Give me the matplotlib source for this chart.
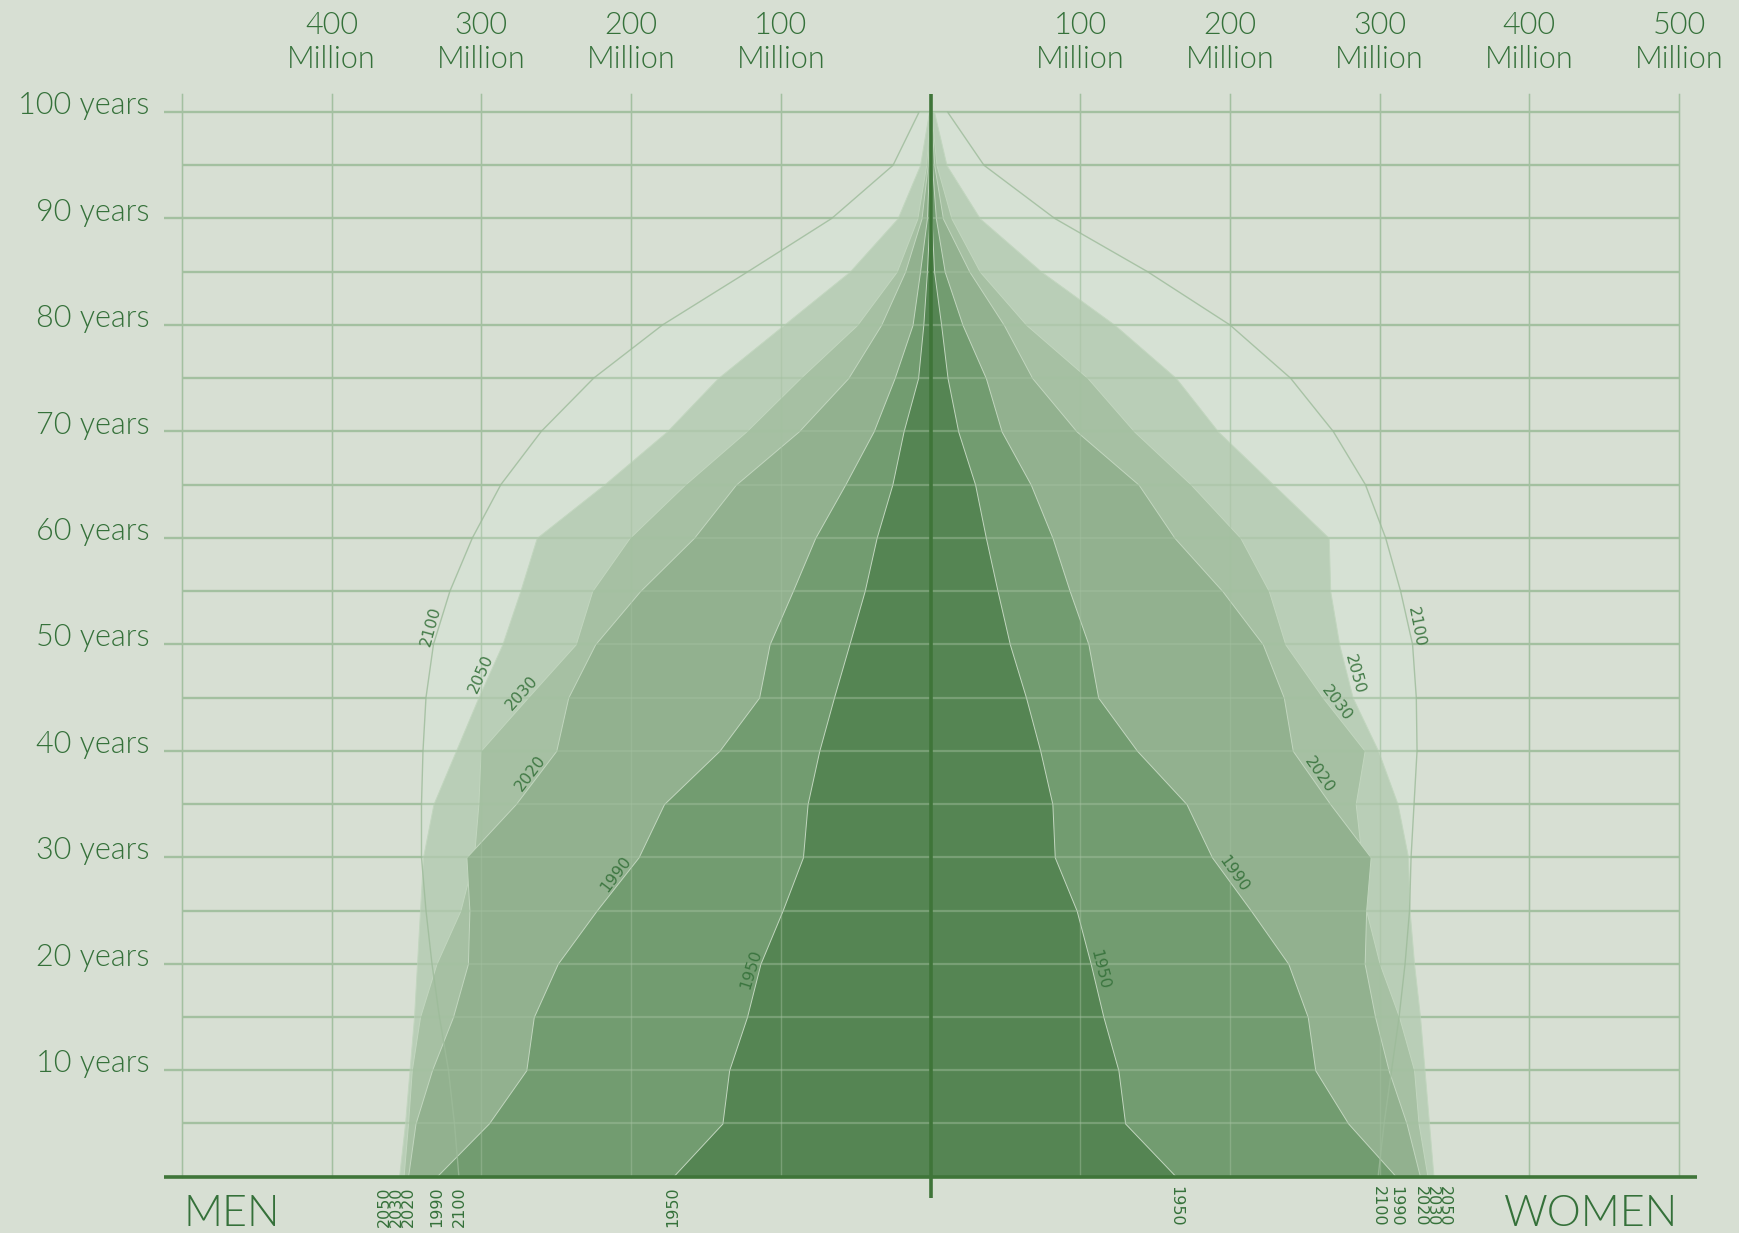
import matplotlib
matplotlib.use("Agg")
import numpy as np
import matplotlib.pyplot as plt
from matplotlib import font_manager
from matplotlib.font_manager import FontProperties
from matplotlib.transforms import blended_transform_factory

# ---------------- data (millions) ----------------
ages = list(range(0, 101, 5))
years = ["1950", "1990", "2020", "2030", "2050", "2100"]

men_1950 = [172, 139, 134.5, 122.6, 113.6, 98.8, 85.2, 82.1, 74.3, 64.5, 54.2, 44, 36, 25.5, 18, 8.3, 4.8, 2.4, 0.7, 0.2, 0.05]
women_1950 = [164, 130, 125.5, 115.5, 107, 97.6, 83, 81.4, 73.3, 63.8, 53, 44.8, 37, 29.8, 18.5, 11.4, 7.1, 2.4, 0.7, 0.3, 0.05]
men_1990 = [330, 295, 270, 265, 249, 223, 195, 178, 141, 114.5, 107.5, 92, 77, 57, 38, 24, 12, 7, 2.4, 1, 0.2]
women_1990 = [311, 279, 257, 252, 239, 214, 188, 171, 138, 112, 105.5, 93, 81.5, 67, 47.5, 37, 21.4, 9.5, 3.6, 1, 0.2]
men_2020 = [349, 344, 333, 319, 309, 308, 310, 277, 250, 242, 224, 194, 158, 130, 88, 55, 33, 17, 6, 1.9, 0.3]
women_2020 = [327, 318, 306, 297, 290, 291, 294, 267, 242, 236, 222, 195, 163, 139, 97.6, 68, 49, 26, 8.3, 2.5, 0.3]
men_2030 = [352, 349, 346.5, 341, 330, 314, 305, 302, 300.5, 269, 237, 226, 201, 164, 123, 87, 49, 22.6, 8.8, 2.9, 0.5]
women_2030 = [332, 326, 323, 313, 300, 291, 288, 284, 290, 262, 237, 226, 207, 174, 136, 105, 64, 33, 14, 4, 0.5]
men_2050 = [355, 351, 348, 345, 343, 341, 339, 332, 317, 302, 286, 274, 263, 218, 176, 142, 98, 54, 22, 7, 1]
women_2050 = [336, 333, 330, 327, 323, 320, 319, 312, 299, 282, 273, 267, 266, 229, 192, 164, 123, 74, 33, 10.7, 2.4]
men_2100 = [315, 318, 322, 328, 333, 337, 340, 340, 339, 337, 332, 321, 306, 287, 260, 225, 179, 122, 66, 25, 7.6]
women_2100 = [299, 303, 308, 313, 317, 320, 321, 323, 325, 324.5, 322, 314, 304, 290.5, 269, 240.5, 200, 145, 83, 35.7, 11.4]

men = {"1950": men_1950, "1990": men_1990, "2020": men_2020,
       "2030": men_2030, "2050": men_2050, "2100": men_2100}
women = {"1950": women_1950, "1990": women_1990, "2020": women_2020,
         "2030": women_2030, "2050": women_2050, "2100": women_2100}

age_ticks = list(range(10, 101, 10))
top_ticks = [-400, -300, -200, -100, 100, 200, 300, 400, 500]

# label ages for the inline year labels (left, right)
label_age_left = {"2100": 51.5, "2050": 47, "2030": 45, "2020": 37.5, "1990": 28, "1950": 19.3}
label_age_right = {"2100": 51.5, "2050": 47, "2030": 44, "2020": 37.3, "1990": 28, "1950": 19.3}

# ---------------- style ----------------
BG = "#d7dfd3"
GRID = "#a3c0a0"
TXT = "#35713a"
DARK = "#3f7539"
fills = {"2100": "#d6e3d6", "2050": "#b9ceb7", "2030": "#a6c0a3",
         "2020": "#92b18f", "1990": "#729c70", "1950": "#558553"}

names = {f.name for f in font_manager.fontManager.ttflist}
main_font = next((f for f in ["Lato", "Open Sans", "DejaVu Sans"] if f in names), "DejaVu Sans")


def _w(f):
    w = f.weight
    if isinstance(w, str):
        w = font_manager.weight_dict.get(w, 400)
    return w


light_files = [f for f in font_manager.fontManager.ttflist
               if f.name == main_font and f.style == "normal" and _w(f) == 300]
if light_files:
    def FP(size):
        return FontProperties(fname=light_files[0].fname, size=size)
else:
    def FP(size):
        return FontProperties(family=main_font, size=size)

W, H = 1739, 1233
fig = plt.figure(figsize=(W / 100, H / 100), dpi=100)
fig.patch.set_facecolor(BG)
y0px, y1px = 1176.7, 93.9
ax = fig.add_axes([164 / W, (H - y0px) / H, 1533 / W, (y0px - y1px) / H])
ax.set_xlim(-512, 512)
ax.set_ylim(0, 101.7)
ax.axis("off")


def draw_grid(alpha, z):
    for a in range(5, 101, 5):
        x0 = -512 if a % 10 == 0 else -500
        ax.plot([x0, 500], [a, a], color=GRID, lw=1.6, zorder=z, alpha=alpha,
                solid_capstyle="butt", clip_on=False)
    for v in range(-500, 501, 100):
        if v == 0:
            continue
        ax.plot([v, v], [0, 101.7], color=GRID, lw=1.0, zorder=z, alpha=alpha,
                clip_on=False)


# grid beneath the areas
draw_grid(1.0, 1)

# ---------------- fills ----------------
order = ["2100", "2050", "2030", "2020", "1990", "1950"]
for yr in order:
    m = np.array(men[yr]); w = np.array(women[yr])
    if yr == "2100":
        ax.fill_betweenx(ages, -m, w, facecolor=fills[yr], edgecolor="none",
                         alpha=0.55, zorder=2)
    else:
        ax.fill_betweenx(ages, -m, w, facecolor=fills[yr], edgecolor="#c2d6bf",
                         lw=0.7, zorder=2)

# grid faintly over the areas
draw_grid(0.45, 2.5)

# outline of 2100 visible through everything
m = np.array(men["2100"]); w = np.array(women["2100"])
ax.plot(-m, ages, color="#9dbb9a", lw=1.0, zorder=3, alpha=0.8)
ax.plot(w, ages, color="#9dbb9a", lw=1.0, zorder=3, alpha=0.8)

# centre line & base line
ax.plot([0, 0], [-2, 101.7], color=DARK, lw=2.6, zorder=4, clip_on=False,
        solid_capstyle="butt")
ax.plot([-512, 512], [0, 0], color=DARK, lw=2.6, zorder=4, clip_on=False,
        solid_capstyle="butt")

# ---------------- text ----------------
for a in age_ticks:
    ax.text(-521.5, a - 0.2, f"{a} years", ha="right", va="baseline",
            fontproperties=FP(22), color=TXT)

tr_top = blended_transform_factory(ax.transData, fig.transFigure)
for v in top_ticks:
    ax.text(v, 1 - 34.4 / H, f"{abs(v)}", ha="center", va="baseline",
            fontproperties=FP(22), color=TXT, transform=tr_top)
    ax.text(v, 1 - 67.7 / H, "Million", ha="center", va="baseline",
            fontproperties=FP(22), color=TXT, transform=tr_top)

ax.text(-499.3, 1 - 1225.5 / H, "MEN", ha="left", va="baseline",
        fontproperties=FP(31), color=TXT, transform=tr_top)
ax.text(499.4, 1 - 1225.5 / H, "WOMEN", ha="right", va="baseline",
        fontproperties=FP(31), color=TXT, transform=tr_top)


# bottom year labels (spread so they do not collide)
def spread(vals, gap):
    items = sorted(vals.items(), key=lambda kv: kv[1])
    out = {}
    prev = None
    for k, v in items:
        pos = v if prev is None else max(v, prev + gap)
        out[k] = pos
        prev = pos
    return out


left0 = spread({y: men[y][0] for y in years}, 8)
right0 = spread({y: women[y][0] for y in years}, 8)
for y, pos in left0.items():
    ax.annotate(y, xy=(-pos, 0), xytext=(0, -7), textcoords="offset points",
                rotation=90, ha="center", va="top", fontsize=11.5, color=TXT,
                family="DejaVu Sans", annotation_clip=False)
for y, pos in right0.items():
    ax.annotate(y, xy=(pos, 0), xytext=(0, -7), textcoords="offset points",
                rotation=270, ha="center", va="top", fontsize=11.5, color=TXT,
                family="DejaVu Sans", annotation_clip=False)


# inline labels along the boundaries
def inline(vals, age, side, txt):
    vals = np.asarray(vals)
    x = side * np.interp(age, ages, vals)
    p1 = ax.transData.transform((side * np.interp(age - 2.5, ages, vals), age - 2.5))
    p2 = ax.transData.transform((side * np.interp(age + 2.5, ages, vals), age + 2.5))
    ang = np.degrees(np.arctan2(p2[1] - p1[1], p2[0] - p1[0]))
    if ang > 90:
        ang -= 180
    ax.text(x, age, txt, rotation=ang, rotation_mode="anchor", ha="center",
            va="bottom", fontsize=11.5, color=TXT, alpha=0.9,
            family="DejaVu Sans", zorder=5)


for y in years:
    inline(men[y], label_age_left[y], -1, y)
    inline(women[y], label_age_right[y], 1, y)

fig.savefig("out.png", dpi=100, facecolor=BG)
